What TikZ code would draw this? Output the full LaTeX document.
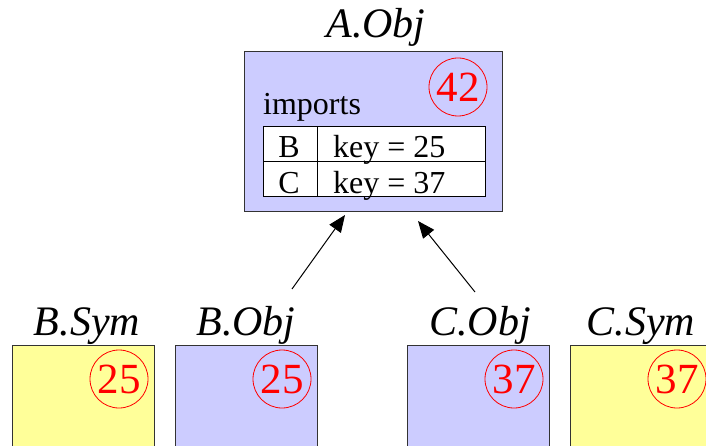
\documentclass[tikz,border=0pt]{standalone}
\usepackage{fontspec}
\setmainfont{Liberation Serif}
\usetikzlibrary{arrows.meta}
\definecolor{objblue}{HTML}{CCCCFF}
\definecolor{symyellow}{HTML}{FFFF99}
\definecolor{boxedge}{HTML}{333333}
\tikzset{
  objbox/.style={draw=boxedge, fill=objblue, line width=1pt, inner sep=0pt},
  symbox/.style={draw=boxedge, fill=symyellow, line width=1pt, inner sep=0pt},
  lowbox/.style={minimum width=142pt, minimum height=140pt},
  title/.style={font=\fontsize{42}{42}\selectfont\itshape, anchor=base, inner sep=0pt},
  body/.style={font=\fontsize{32}{32}\selectfont, anchor=base, inner sep=0pt},
  num/.style={draw=red, text=red, circle, line width=0.8pt, minimum size=58pt, inner sep=0pt, font=\fontsize{43}{43}\selectfont},
  cell/.style={draw=black, fill=white, line width=1pt, inner sep=0pt},
  imparrow/.style={line width=1pt, -{Triangle[length=17pt,width=14pt]}}
}
\begin{document}
\begin{tikzpicture}[x=1pt,y=-1pt]
\useasboundingbox (0,0) rectangle (706,446);
\begin{scope}
\clip (0,0) rectangle (706,446);
% A.Obj
\node[title] (tA) at (376,38) {A.Obj};
\node[objbox, minimum width=258pt, minimum height=160pt] (A) at (373.5,132) {};
\node[num] (nA) at (458,87) {42};
\node[body, anchor=base west] (imp) at (263,115) {imports};
\node[cell, minimum width=54pt, minimum height=35pt] (c11) at (290,144.5) {};
\node[cell, minimum width=168pt, minimum height=35pt] (c12) at (401,144.5) {};
\node[cell, minimum width=54pt, minimum height=35pt] (c21) at (290,179) {};
\node[cell, minimum width=168pt, minimum height=35pt] (c22) at (401,179) {};
\node[body] (tB) at (289,158) {B};
\node[body, anchor=base west] (kB) at (333,158) {key = 25};
\node[body] (tC) at (289,193.5) {C};
\node[body, anchor=base west] (kC) at (333,193.5) {key = 37};
% lower boxes
\node[symbox, lowbox, anchor=north west] (BS) at (12,345) {};
\node[objbox, lowbox, anchor=north west] (BO) at (175,345) {};
\node[objbox, lowbox, anchor=north west] (CO) at (407,345) {};
\node[symbox, lowbox, anchor=north west] (CS) at (570,345) {};
\node[title] (tBS) at (87,335) {B.Sym};
\node[title] (tBO) at (246,335) {B.Obj};
\node[title] (tCO) at (480,335) {C.Obj};
\node[title] (tCS) at (641,335) {C.Sym};
\node[num] (nBS) at (119,379) {25};
\node[num] (nBO) at (282,379) {25};
\node[num] (nCO) at (514,379) {37};
\node[num] (nCS) at (677,379) {37};
% arrows
\coordinate (fromB) at (292,289);
\coordinate (toB) at (345,215);
\coordinate (fromC) at (475,292);
\coordinate (toC) at (418,221);
\draw[imparrow] (fromB) -- (toB);
\draw[imparrow] (fromC) -- (toC);
\end{scope}
\end{tikzpicture}
\end{document}
